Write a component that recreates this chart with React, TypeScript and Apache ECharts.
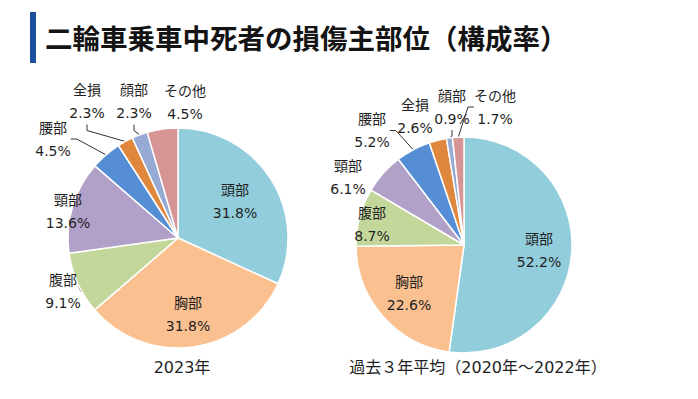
import { useEffect, useRef } from 'react';
import * as echarts from 'echarts';

const titleText = '二輪車乗車中死者の損傷主部位（構成率）';
const categories = ['頭部', '胸部', '腹部', '頸部', '腰部', '全損', '顔部', 'その他'];
const values2023 = [31.8, 31.8, 9.1, 13.6, 4.5, 2.3, 2.3, 4.5];
const valuesAvg = [52.2, 22.6, 8.7, 6.1, 5.2, 2.6, 0.9, 1.7];
const captions = ['2023年', '過去３年平均（2020年～2022年）'];

const colors = ['#92CDDC', '#FAC090', '#C4D79B', '#B1A0C7', '#558ED5', '#E0873E', '#97AAD3', '#D69594'];

// label placement (styling)
const labelPos2023 = [[235, 201.5], [188, 314.5], [63, 291.5], [68, 211.5], [53, 139], [87, 101.5], [134, 101.5], [185, 102.5]];
const labelPosAvg = [[539, 250], [409, 293], [372, 224.5], [348, 177.5], [372, 130.5], [415, 116.5], [452, 107], [495, 107]];
const lineShow2023 = [false, false, true, false, true, true, true, false];
const lineShowAvg = [false, false, false, false, true, false, true, true];

const labelFont = '"DejaVu Sans", "Noto Sans CJK JP", sans-serif';

function makePie(values: number[], center: number[], radius: number, pos: number[][], lines: boolean[]) {
  return {
    type: 'pie',
    center,
    radius,
    startAngle: 90,
    clockwise: true,
    silent: true,
    avoidLabelOverlap: false,
    itemStyle: { borderColor: '#ffffff', borderWidth: 1.5 },
    data: categories.map((c, i) => ({
      name: c,
      value: values[i],
      itemStyle: { color: colors[i] },
      labelLine: { show: lines[i] },
    })),
    label: {
      show: true,
      position: 'outside',
      formatter: (p: any) => `${p.name}\n${Number(p.value).toFixed(1)}%`,
      fontSize: 14,
      lineHeight: 23,
      color: '#1f1f1f',
      fontFamily: labelFont,
      align: 'center',
    },
    labelLine: { show: true, length: 6, length2: 6, lineStyle: { color: '#333333', width: 1 } },
    labelLayout: (p: any) => ({
      x: pos[p.dataIndex][0],
      y: pos[p.dataIndex][1],
      align: 'center',
      verticalAlign: 'middle',
    }),
  };
}

export default function App() {
  const ref = useRef<HTMLDivElement>(null);
  useEffect(() => {
    if (!ref.current) return;
    const chart = echarts.init(ref.current, undefined, { renderer: 'svg' });
    chart.setOption({
      animation: false,
      backgroundColor: '#ffffff',
      graphic: [
        { type: 'rect', shape: { x: 30, y: 12, width: 6, height: 51 }, style: { fill: '#1D4F9F' } },
        {
          type: 'text', x: 45, y: 37,
          style: { text: titleText, fontSize: 27.5, fontWeight: 'bold', fontFamily: '"Noto Sans CJK JP", sans-serif', fill: '#141414', verticalAlign: 'middle', align: 'left' },
        },
        {
          type: 'text', x: 182, y: 367,
          style: { text: captions[0], fontSize: 16, fontFamily: labelFont, fill: '#1f1f1f', align: 'center', verticalAlign: 'middle' },
        },
        {
          type: 'text', x: 478, y: 367,
          style: { text: captions[1], fontSize: 16, fontFamily: labelFont, fill: '#1f1f1f', align: 'center', verticalAlign: 'middle' },
        },
      ],
      series: [
        makePie(values2023, [178, 238], 110, labelPos2023, lineShow2023),
        makePie(valuesAvg, [464, 245], 108, labelPosAvg, lineShowAvg),
      ],
    });
    return () => chart.dispose();
  }, []);
  return <div ref={ref} style={{ position: 'fixed', left: 0, top: 0, width: 698, height: 399 }} />;
}
